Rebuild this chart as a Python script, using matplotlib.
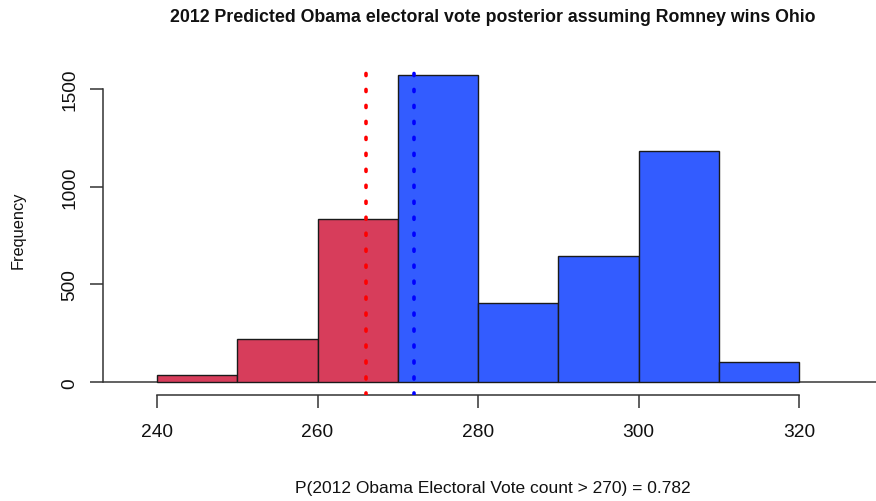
import numpy as np
import matplotlib
matplotlib.use("Agg")
import matplotlib.pyplot as plt

plt.rcParams.update({
    'font.family': ['Liberation Sans', 'DejaVu Sans'],
    'lines.scale_dashes': False,
})

# histogram of simulated electoral votes (10-vote bins)
bin_edges = [240, 250, 260, 270, 280, 290, 300, 310, 320]
counts = [35, 220, 835, 1570, 405, 645, 1185, 105]
threshold = 270
mean_line = 266
median_line = 272
x_ticks = [240, 260, 280, 300, 320]
y_ticks = [0, 500, 1000, 1500]

RED = '#D73D5B'
BLUE = '#335CFF'

W, H = 876, 502
fig = plt.figure(figsize=(W / 100, H / 100), dpi=100)
# plot region in pixels: left 103, right 880, top 64, bottom 395.5
ax = fig.add_axes([103 / W, (H - 395.5) / H, (880 - 103) / W, (395.5 - 64) / H])

lefts = np.array(bin_edges[:-1])
widths = np.diff(bin_edges)
colors = [RED if l < threshold else BLUE for l in lefts]
ax.bar(lefts, counts, width=widths, align='edge', color=colors,
       edgecolor='#1a1a1a', linewidth=1.0, zorder=2)

ax.axhline(0, color='#555555', linewidth=1.3, zorder=1)
ax.axvline(mean_line, color='red', linewidth=2.6, dashes=(1.5, 10.0),
           dash_capstyle='round', zorder=3)
ax.axvline(median_line, color='blue', linewidth=2.6, dashes=(1.5, 10.0),
           dash_capstyle='round', zorder=3)

ax.set_xlim(233.27, 330.09)
ax.set_ylim(-62.8, 1632.8)

for s in ['top', 'right']:
    ax.spines[s].set_visible(False)
ax.spines['left'].set_bounds(0, 1500)
ax.spines['bottom'].set_bounds(240, 320)
for s in ['left', 'bottom']:
    ax.spines[s].set_color('#333333')
    ax.spines[s].set_linewidth(1.1)

ax.set_xticks(x_ticks)
ax.set_yticks(y_ticks)
ax.tick_params(axis='both', direction='out', length=9.5, width=1.1,
               color='#333333', labelsize=13.8, labelcolor='#111111')
ax.tick_params(axis='x', pad=11)
ax.tick_params(axis='y', pad=8)
for lab in ax.get_yticklabels():
    lab.set_rotation(90)
    lab.set_va('center')

fig.text(18 / W, 1 - 230 / H, 'Frequency', rotation=90, ha='center',
         va='center', fontsize=11.8, color='#111111')
fig.text(493 / W, 1 - 17 / H,
         '2012 Predicted Obama electoral vote posterior assuming Romney wins Ohio',
         ha='center', va='center', fontsize=12.8, fontweight='bold', color='#111111')
fig.text(492.5 / W, 1 - 489 / H,
         'P(2012 Obama Electoral Vote count > 270) = 0.782',
         ha='center', va='center', fontsize=12.5, color='#111111')

fig.savefig('out.png', dpi=100)
